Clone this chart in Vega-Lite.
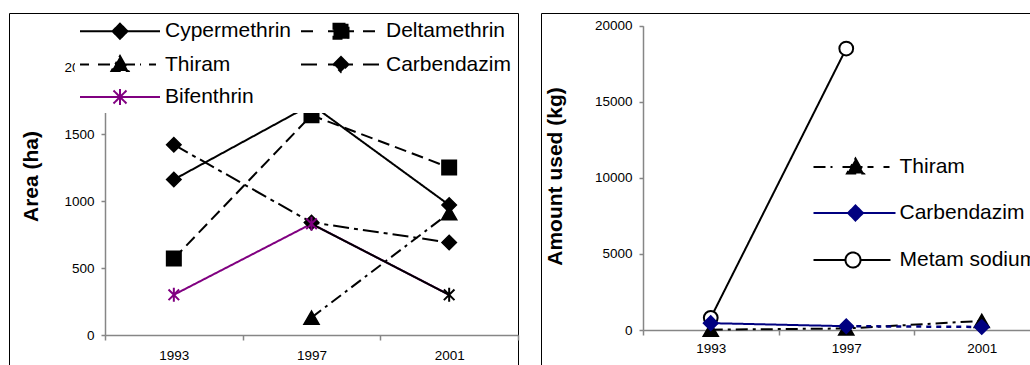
{
  "$schema": "https://vega.github.io/schema/vega-lite/v6.json",
  "background": "white",
  "padding": {"left": 8, "top": 12, "right": 0, "bottom": 0},
  "config": {
    "font": "Liberation Sans",
    "view": {"stroke": "black", "strokeWidth": 1},
    "axis": {
      "domainColor": "#868686",
      "tickColor": "#868686",
      "domainWidth": 1.5,
      "tickWidth": 1.5,
      "labelColor": "black",
      "labelFont": "Liberation Sans",
      "labelFontSize": 13.5,
      "titleFont": "Liberation Sans",
      "titleFontSize": 21,
      "titleFontWeight": "bold",
      "titleColor": "black",
      "grid": false
    }
  },
  "datasets": {
    "area": [
      {"series": "Cypermethrin", "year": "1993", "value": 1160},
      {"series": "Cypermethrin", "year": "1997", "value": 1720},
      {"series": "Cypermethrin", "year": "2001", "value": 970},
      {"series": "Deltamethrin", "year": "1993", "value": 570},
      {"series": "Deltamethrin", "year": "1997", "value": 1640},
      {"series": "Deltamethrin", "year": "2001", "value": 1250},
      {"series": "Thiram", "year": "1997", "value": 130},
      {"series": "Thiram", "year": "2001", "value": 910},
      {"series": "Carbendazim", "year": "1993", "value": 1420},
      {"series": "Carbendazim", "year": "1997", "value": 840},
      {"series": "Carbendazim", "year": "2001", "value": 690},
      {"series": "Bifenthrin", "year": "1993", "value": 300},
      {"series": "Bifenthrin", "year": "1997", "value": 830},
      {"series": "Bifenthrin", "year": "2001", "value": 300}
    ],
    "amount": [
      {"series": "Thiram", "year": "1993", "value": 20},
      {"series": "Thiram", "year": "1997", "value": 100},
      {"series": "Thiram", "year": "2001", "value": 600},
      {"series": "Metam sodium", "year": "1993", "value": 800},
      {"series": "Metam sodium", "year": "1997", "value": 18500},
      {"series": "Carbendazim", "year": "1993", "value": 450},
      {"series": "Carbendazim", "year": "1997", "value": 250},
      {"series": "Carbendazim", "year": "2001", "value": 200}
    ]
  },
  "spacing": 20,
  "resolve": {
    "scale": {"x": "independent", "y": "independent", "color": "independent", "strokeDash": "independent"},
    "legend": {"color": "independent", "strokeDash": "independent"}
  },
  "hconcat": [
    {
      "width": 509,
      "height": 360,
      "data": {"name": "area"},
      "encoding": {
        "x": {
          "field": "year", "type": "ordinal",
          "scale": {"type": "band", "domain": ["1993", "1997", "2001"], "range": [96, 509], "paddingInner": 0, "paddingOuter": 0},
          "axis": {"title": null, "offset": -38, "labelAngle": 0, "tickBand": "extent", "tickSize": 5, "labelPadding": 8}
        },
        "y": {
          "field": "value", "type": "quantitative",
          "scale": {"domain": [0, 2000], "range": [322, 54], "nice": false},
          "axis": {"title": "Area (ha)", "format": "d", "offset": -96, "values": [0, 500, 1000, 1500, 2000], "tickSize": 4, "labelPadding": 7, "titleX": -74, "titleY": 163, "titleBaseline": "middle"}
        }
      },
      "layer": [
        {
          "mark": {"type": "line", "strokeWidth": 2},
          "encoding": {
            "color": {
              "field": "series", "type": "nominal",
              "scale": {"domain": ["Cypermethrin", "Thiram", "Bifenthrin", "Deltamethrin", "Carbendazim"], "range": ["black", "black", "#800080", "black", "black"]},
              "legend": {
                "title": null, "orient": "none", "legendX": 66, "legendY": 3, "columns": 2,
                "fillColor": "white", "padding": 4,
                "labelFontSize": 21, "labelFont": "Liberation Sans", "labelColor": "black", "labelLimit": 300,
                "symbolSize": 400, "symbolStrokeWidth": 2, "labelOffset": 64, "rowPadding": 8.5, "columnPadding": 5,
                "encode": {
                  "symbols": {
                    "update": {
                      "shape": {"signal": "datum.value === 'Cypermethrin' ? 'M-1,0H7M3,-0.75L3.75,0L3,0.75L2.25,0Z' : datum.value === 'Deltamethrin' ? 'M-1,0H0.8M1.7,0H4.3M5.2,0H7M2.25,-0.75H3.75V0.75H2.25Z' : datum.value === 'Thiram' ? 'M-1,0H-0.1M0.8,0H5.1M5.9,0H6.6M3,-0.85L3.85,0.65L2.15,0.65Z' : datum.value === 'Carbendazim' ? 'M-1,0H0.8M1.7,0H4.3M5.2,0H7M3,-0.75L3.75,0L3,0.75L2.25,0Z' : 'M-1,0H7M3,-0.8V0.8M2.35,-0.65L3.65,0.65M2.35,0.65L3.65,-0.65'"},
                      "fill": {"signal": "datum.value === 'Bifenthrin' ? '#800080' : 'black'"},
                      "stroke": {"signal": "datum.value === 'Bifenthrin' ? '#800080' : 'black'"},
                      "strokeWidth": {"value": 2},
                      "strokeDash": {"value": [1, 0]},
                      "opacity": {"value": 1}
                    }
                  }
                }
              }
            },
            "strokeDash": {
              "field": "series", "type": "nominal",
              "scale": {"domain": ["Cypermethrin", "Thiram", "Bifenthrin", "Deltamethrin", "Carbendazim"], "range": [[1, 0], [12, 5, 3, 5], [1, 0], [12, 6], [16, 5, 4, 5]]},
              "legend": null
            }
          }
        },
        {
          "transform": [{"filter": "datum.series === 'Bifenthrin' && datum.year !== '1993'"}],
          "mark": {"type": "line", "strokeWidth": 2, "color": "black"}
        },
        {
          "transform": [{"filter": "datum.series === 'Cypermethrin' || datum.series === 'Carbendazim'"}],
          "mark": {"type": "point", "shape": "diamond", "size": 210, "filled": true, "color": "black", "stroke": "black", "strokeWidth": 1.5, "opacity": 1}
        },
        {
          "transform": [{"filter": "datum.series === 'Deltamethrin'"}],
          "mark": {"type": "point", "shape": "square", "size": 210, "filled": true, "color": "black", "stroke": "black", "strokeWidth": 1.5, "opacity": 1}
        },
        {
          "transform": [{"filter": "datum.series === 'Thiram'"}],
          "mark": {"type": "point", "shape": "triangle-up", "size": 230, "filled": true, "color": "black", "stroke": "black", "strokeWidth": 1.5, "opacity": 1}
        },
        {
          "transform": [{"filter": "datum.series === 'Bifenthrin'"}],
          "mark": {"type": "point", "shape": "M0,-1V1M-0.75,-0.75L0.75,0.75M-0.75,0.75L0.75,-0.75", "size": 200, "filled": false, "strokeWidth": 2, "opacity": 1},
          "encoding": {
            "stroke": {"condition": {"test": "datum.year === '2001'", "value": "black"}, "value": "#800080"}
          }
        }
      ]
    },
    {
      "width": 520,
      "height": 360,
      "data": {"name": "amount"},
      "encoding": {
        "x": {
          "field": "year", "type": "ordinal",
          "scale": {"type": "band", "domain": ["1993", "1997", "2001"], "range": [102, 508.5], "paddingInner": 0, "paddingOuter": 0},
          "axis": {"title": null, "offset": -43, "labelAngle": 0, "tickBand": "extent", "tickSize": 5, "labelPadding": 6}
        },
        "y": {
          "field": "value", "type": "quantitative",
          "scale": {"domain": [0, 20000], "range": [317, 12.7], "nice": false},
          "axis": {"title": "Amount used (kg)", "format": "d", "offset": -102, "values": [0, 5000, 10000, 15000, 20000], "tickSize": 4, "labelPadding": 7, "titleX": -88, "titleY": 163, "titleBaseline": "middle"}
        }
      },
      "layer": [
        {
          "transform": [{"filter": "!(datum.series === 'Carbendazim' && datum.year === '2001')"}],
          "mark": {"type": "line", "strokeWidth": 2},
          "encoding": {
            "color": {
              "field": "series", "type": "nominal",
              "scale": {"domain": ["Thiram", "Carbendazim", "Metam sodium"], "range": ["black", "#000080", "black"]},
              "legend": {
                "title": null, "orient": "none", "legendX": 266.5, "legendY": 138, "columns": 1,
                "fillColor": "white", "padding": 5,
                "labelFontSize": 21, "labelFont": "Liberation Sans", "labelColor": "black", "labelLimit": 300,
                "symbolSize": 400, "symbolStrokeWidth": 2, "labelOffset": 65, "rowPadding": 23,
                "encode": {
                  "symbols": {
                    "update": {
                      "shape": {"signal": "datum.value === 'Thiram' ? 'M-1,0H0.9M1.9,0H5M6,0H6.6M3.2,-0.85L4.05,0.65L2.35,0.65Z' : datum.value === 'Carbendazim' ? 'M-1,0H7.2M3.2,-0.75L3.95,0L3.2,0.75L2.45,0Z' : 'M-1,0H2.2M3.7,0H6.7M3.7,0A0.75,0.75 0 1,1 2.2,0A0.75,0.75 0 1,1 3.7,0Z'"},
                      "fill": {"signal": "datum.value === 'Carbendazim' ? '#000080' : datum.value === 'Metam sodium' ? 'white' : 'black'"},
                      "stroke": {"signal": "datum.value === 'Carbendazim' ? '#000080' : 'black'"},
                      "strokeWidth": {"value": 2},
                      "strokeDash": {"value": [1, 0]},
                      "opacity": {"value": 1}
                    }
                  }
                }
              }
            },
            "strokeDash": {
              "field": "series", "type": "nominal",
              "scale": {"domain": ["Thiram", "Carbendazim", "Metam sodium"], "range": [[12, 5, 3, 5], [1, 0], [1, 0]]},
              "legend": null
            }
          }
        },
        {
          "transform": [{"filter": "datum.series === 'Carbendazim' && datum.year !== '1993'"}],
          "mark": {"type": "line", "strokeWidth": 2.5, "color": "#000080", "strokeDash": [5, 5]}
        },
        {
          "transform": [{"filter": "datum.series === 'Thiram'"}],
          "mark": {"type": "point", "shape": "triangle-up", "size": 230, "filled": true, "color": "black", "stroke": "black", "strokeWidth": 1.5, "opacity": 1}
        },
        {
          "transform": [{"filter": "datum.series === 'Metam sodium'"}],
          "mark": {"type": "point", "shape": "circle", "size": 190, "filled": false, "fill": "white", "stroke": "black", "strokeWidth": 2, "opacity": 1}
        },
        {
          "transform": [{"filter": "datum.series === 'Carbendazim'"}],
          "mark": {"type": "point", "shape": "diamond", "size": 210, "filled": true, "color": "#000080", "stroke": "#000080", "strokeWidth": 1.5, "opacity": 1}
        }
      ]
    }
  ]
}
